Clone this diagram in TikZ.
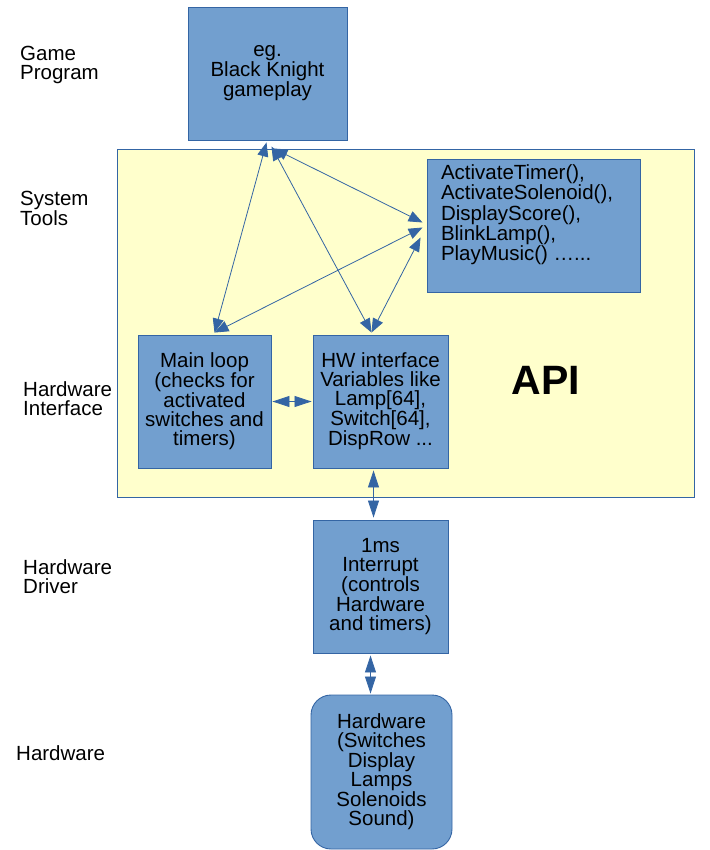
\documentclass[tikz,border=0pt]{standalone}
\usepackage{fontspec}
\setmainfont{Liberation Sans}
\usetikzlibrary{arrows.meta}
\definecolor{boxfill}{HTML}{729FCF}
\definecolor{boxline}{HTML}{3465A4}
\definecolor{apiyellow}{HTML}{FFFFCC}
\begin{document}
\begin{tikzpicture}[x=1pt,y=-1pt,
  every node/.style={font=\fontsize{20.5}{19}\selectfont, inner sep=0pt},
  bluebox/.style={draw=boxline, fill=boxfill, line width=0.9pt, align=center},
  sidelabel/.style={anchor=west, align=left},
  link/.style={draw=boxline, line width=0.8pt, {Triangle[length=14pt,width=11pt]}-{Triangle[length=14pt,width=11pt]}, color=boxline},
  shortlink/.style={draw=boxline, line width=0.8pt, {Triangle[length=17pt,width=11pt]}-{Triangle[length=17pt,width=11pt]}, color=boxline}
]
\useasboundingbox (0,0) rectangle (709,850);
% yellow API area
\node[draw=boxline, fill=apiyellow, line width=0.8pt, minimum width=577pt, minimum height=348pt] (apiarea) at (405.5,323) {};
\node[font=\fontsize{41}{44}\selectfont\bfseries] (apilabel) at (546,380) {API};

% boxes
\node[bluebox, minimum width=159pt, minimum height=133pt] (game) at (267.5,73.5) {eg.\\Black Knight\\gameplay};
\node[bluebox, minimum width=213pt, minimum height=133pt] (api) at (533.5,225.5)
  {\parbox[c][133pt][t]{213pt}{\raggedright\leftskip=14pt\vspace*{6pt}ActivateTimer(),\\ActivateSolenoid(),\\DisplayScore(),\\BlinkLamp(),\\PlayMusic() …...}};
\node[bluebox, minimum width=133pt, minimum height=133pt] (main) at (204.5,401.5) {Main loop\\(checks for\\activated\\switches and\\timers)};
\node[bluebox, minimum width=135pt, minimum height=133pt] (hw) at (380.5,401.5) {HW interface\\Variables like\\Lamp[64],\\Switch[64],\\DispRow ...};
\node[bluebox, minimum width=135pt, minimum height=133pt] (irq) at (380.5,586.5) {1ms\\Interrupt\\(controls\\Hardware\\and timers)};
\node[bluebox, rounded corners=20pt, minimum width=141pt, minimum height=154pt] (hwr) at (381.5,772) {Hardware\\(Switches\\Display\\Lamps\\Solenoids\\Sound)};

% side labels
\node[sidelabel] (l1) at (20,65) {Game\\Program};
\node[sidelabel] (l2) at (20,208) {System\\Tools};
\node[sidelabel] (l3) at (23,399) {Hardware\\Interface};
\node[sidelabel] (l4) at (23,577) {Hardware\\Driver};
\node[sidelabel] (l5) at (16,753) {Hardware};

% connectors
\draw[link] ([xshift=-1pt,yshift=-2pt]game.south) -- ([xshift=10pt,yshift=2pt]main.north);
\draw[link] ([xshift=4pt,yshift=-6pt]game.south) -- ([xshift=-9pt,yshift=2pt]hw.north);
\draw[link] ([xshift=6pt,yshift=-8pt]game.south) -- ([xshift=-4pt,yshift=3pt]api.west);
\draw[link] ([xshift=-4pt,yshift=-2pt]api.west) -- ([xshift=10pt,yshift=2pt]main.north);
\draw[link] ([xshift=-6pt,yshift=-12pt]api.west) -- ([xshift=-9pt,yshift=2pt]hw.north);
\draw[shortlink] ([xshift=1pt]main.east) -- ([xshift=-1pt]hw.west);
\draw[shortlink] ([xshift=-7pt,yshift=-2pt]hw.south) -- ([xshift=-7pt,yshift=2pt]irq.north);
\draw[shortlink] ([xshift=-10pt,yshift=-2pt]irq.south) -- ([xshift=-11pt,yshift=1pt]hwr.north);
\end{tikzpicture}
\end{document}
